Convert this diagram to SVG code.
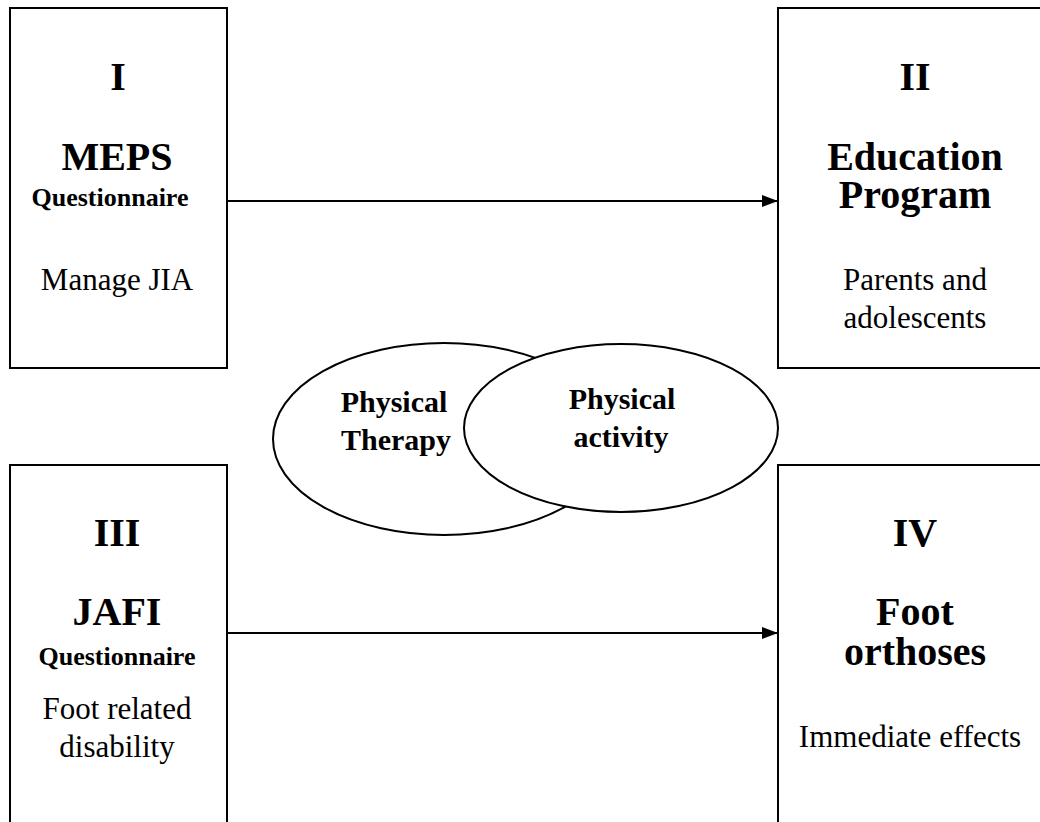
<svg xmlns="http://www.w3.org/2000/svg" width="1040" height="822" viewBox="0 0 1040 822">
<style>
.box{fill:#fff;stroke:#000;stroke-width:2}
.ell{fill:#fff;stroke:#000;stroke-width:2}
.t{font-family:"Liberation Serif","Times New Roman",serif;fill:#000;text-anchor:middle}
.big{font-size:40px;font-weight:bold}
.sm{font-size:26px;font-weight:bold}
.reg{font-size:31px}
.el{font-size:30px;font-weight:bold}
.con{stroke:#000;stroke-width:2;fill:none}
</style>
<defs>
<marker id="ah" markerUnits="userSpaceOnUse" markerWidth="17" markerHeight="12" refX="16" refY="6" orient="auto">
<path d="M0,0 L16,6 L0,12 z" fill="#000"/>
</marker>
</defs>
<rect width="1040" height="822" fill="#fff"/>
<g id="node-I">
<rect class="box" x="10" y="8" width="217" height="360"/>
<text class="t big" x="118" y="90">I</text>
<text class="t big" x="117" y="170">MEPS</text>
<text class="t sm" x="110" y="206">Questionnaire</text>
<text class="t reg" x="117" y="290">Manage JIA</text>
</g>
<g id="node-II">
<rect class="box" x="778" y="8" width="280" height="360"/>
<text class="t big" x="915" y="90">II</text>
<text class="t big" x="915" y="170">Education</text>
<text class="t big" x="915" y="208">Program</text>
<text class="t reg" x="915" y="290">Parents and</text>
<text class="t reg" x="915" y="328">adolescents</text>
</g>
<g id="node-III">
<rect class="box" x="10" y="465" width="217" height="380"/>
<text class="t big" x="117" y="546">III</text>
<text class="t big" x="117" y="625">JAFI</text>
<text class="t sm" x="117" y="665">Questionnaire</text>
<text class="t reg" x="117" y="719">Foot related</text>
<text class="t reg" x="117" y="757">disability</text>
</g>
<g id="node-IV">
<rect class="box" x="778" y="465" width="280" height="380"/>
<text class="t big" x="915" y="546">IV</text>
<text class="t big" x="915" y="625">Foot</text>
<text class="t big" x="915" y="665">orthoses</text>
<text class="t reg" x="910" y="747">Immediate effects</text>
</g>
<g id="node-therapy">
<ellipse class="ell" cx="444" cy="439" rx="171" ry="96"/>
<text class="t el" x="394" y="412">Physical</text>
<text class="t el" x="396" y="450">Therapy</text>
</g>
<g id="node-activity">
<ellipse class="ell" cx="621" cy="428" rx="157" ry="84"/>
<text class="t el" x="622" y="409">Physical</text>
<text class="t el" x="621" y="447">activity</text>
</g>
<g id="connectors">
<line class="con" x1="227" y1="201" x2="778" y2="201" marker-end="url(#ah)"/>
<line class="con" x1="227" y1="633" x2="778" y2="633" marker-end="url(#ah)"/>
</g>
</svg>
